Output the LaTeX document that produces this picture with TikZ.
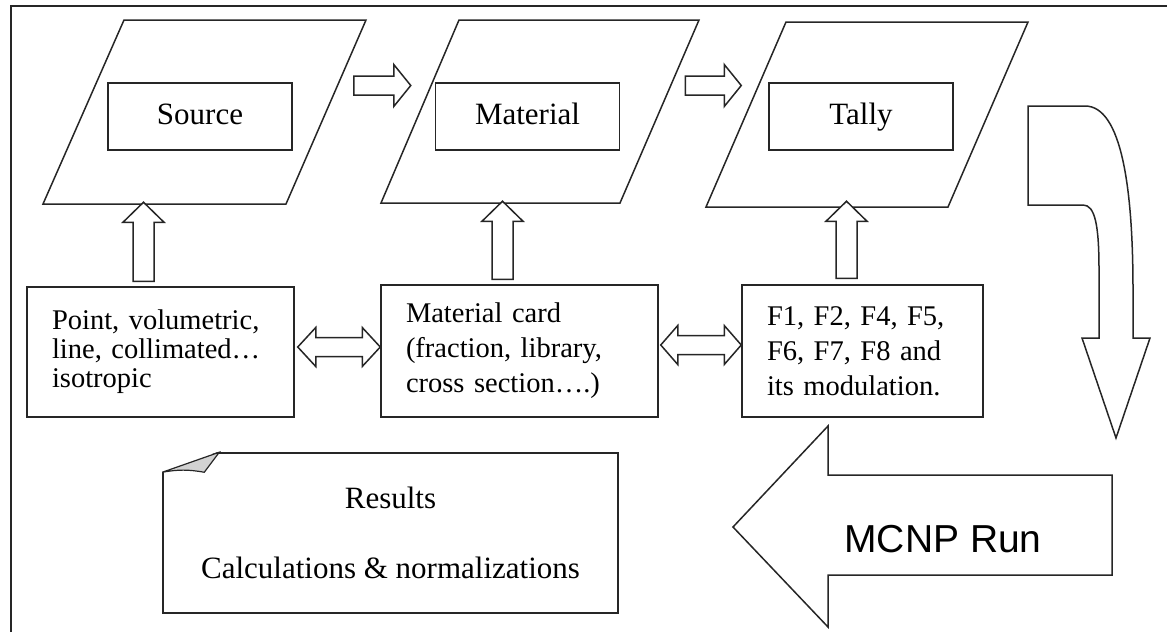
\documentclass[tikz,border=0pt]{standalone}
\usepackage{fontspec}
\setmainfont{Liberation Serif}
\newfontfamily\arialfont{Liberation Sans}
\usetikzlibrary{calc,positioning}

% block arrow: start, tip, shaft half width, head half width, head length
\newcommand\blockarrow[5]{%
\draw[blk] let \p1=(#1), \p2=(#2), \n1={atan2(\y2-\y1,\x2-\x1)}, \n2={veclen(\x2-\x1,\y2-\y1)} in
 [shift={(\p1)}, rotate=\n1] (0pt,-#3pt) -- (\n2-#5pt,-#3pt) -- (\n2-#5pt,-#4pt) -- (\n2,0pt)
 -- (\n2-#5pt,#4pt) -- (\n2-#5pt,#3pt) -- (0pt,#3pt) -- cycle;}
% double block arrow: one end, other end, shaft half width, head half width, head length
\newcommand\dblarrow[5]{%
\draw[blk] let \p1=(#1), \p2=(#2), \n1={atan2(\y2-\y1,\x2-\x1)}, \n2={veclen(\x2-\x1,\y2-\y1)} in
 [shift={(\p1)}, rotate=\n1] (0pt,0pt) -- (#5pt,-#4pt) -- (#5pt,-#3pt) -- (\n2-#5pt,-#3pt) -- (\n2-#5pt,-#4pt)
 -- (\n2,0pt) -- (\n2-#5pt,#4pt) -- (\n2-#5pt,#3pt) -- (#5pt,#3pt) -- (#5pt,#4pt) -- cycle;}

\begin{document}
\begin{tikzpicture}[x=1pt,y=-1pt,line width=1.5pt,draw=black!85,every node/.style={align=center},
heading/.style={draw,minimum width=184pt,minimum height=67pt,text height=21pt,text depth=6pt,font=\fontsize{31}{36}\selectfont},
card/.style={draw,align=left,inner xsep=25pt,minimum height=132pt,font=\fontsize{28.5}{35}\selectfont},
blk/.style={draw=black!85,fill=white,line join=miter}
]
\useasboundingbox (0,0) rectangle (1167,632);
\draw (11,632) -- (11,6) -- (1167,6); % <- end frame

% the three slanted input blocks
\draw[line join=miter] (43,204) -- (124,20) -- (366,20) -- (286,204) -- cycle;
\draw[line join=miter] (381,203) -- (459,20) -- (699,20) -- (620,203) -- cycle;
\draw[line join=miter] (706,207) -- (786,22) -- (1028,22) -- (948,207) -- cycle;
\node[heading] (srcname) at (200,116.5) {Source};
\node[heading] (matname) at (527.5,116.5) {Material};
\node[heading] (tallyname) at (861,116.5) {Tally}; % <- end top row

\node[card,text width=217pt,minimum height=130pt,font=\fontsize{28.5}{29}\selectfont] (pointcard) at (160.5,352) {Point, volumetric,\\ line, collimated\dots\\ isotropic};
\node[card,text width=227pt] (matcard) at (519.5,351) {Material card\\ (fraction, library,\\ cross section\dots.)};
\node[card,text width=191pt] (tallycard) at (862.5,351) {F1, F2, F4, F5,\\ F6, F7, F8 and\\ its modulation.}; % <- end cards

\blockarrow{$(srcname.east)+(61,-31)$}{$(matname.west)+(-24,-31)$}{9.5}{21}{17}
\blockarrow{$(matname.east)+(65,-31)$}{$(tallyname.west)+(-27,-31)$}{9.5}{21}{17}
\blockarrow{$(pointcard.north)+(-17,-5)$}{$(pointcard.north)+(-17,-84)$}{10.5}{20.5}{20}
\blockarrow{$(matcard.north)+(-17,-5)$}{$(matcard.north)+(-17,-83)$}{10.5}{20.5}{20}
\blockarrow{$(tallycard.north)+(-16,-6)$}{$(tallycard.north)+(-16,-83)$}{10.5}{20.5}{20}
\dblarrow{$(pointcard.east)+(3,-5)$}{$(matcard.west)+(0,-4)$}{9.5}{19.5}{18}
\dblarrow{$(matcard.east)+(2,-6)$}{$(tallycard.west)+(0,-6)$}{9.5}{19.5}{17} % <- end arrows

% curved arrow down the right side
\draw[blk] (1028,106) -- (1085,106) .. controls (1122,106) and (1133,190) .. (1133,290) -- (1133,338)
 -- (1150,338) -- (1116,438) -- (1082,338) -- (1099,338) -- (1099,270)
 .. controls (1099,225) and (1095,205) .. (1083,205) -- (1028,205) -- cycle;

\draw[blk] (733,527) -- (828,426) -- (828,475) -- (1112,475) -- (1112,575) -- (828,575) -- (828,627) -- cycle;
\node[font=\arialfont\fontsize{39}{44}\selectfont,anchor=base] (mcnp) at (943,552) {MCNP Run};

\node[draw,minimum width=455pt,minimum height=160pt,font=\fontsize{31}{36}\selectfont] (results) at (390.5,533) {Results\\[34pt]Calculations \& normalizations};
\coordinate (fa) at ($(results.north west)+(0,20)$);
\coordinate (fb) at ($(results.north west)+(57,0)$);
\coordinate (fc) at ($(results.north west)+(42,20)$);
\fill[white] ($(results.north west)+(-1,-1)$) -- ($(fb)+(0,-1)$) -- ($(fa)+(-1,0)$) -- cycle;
\filldraw[fill=gray!35,line width=1.2pt] (fa) -- (fb) -- (fc) to[bend right=10] (fa); % <- end results
\end{tikzpicture}
\end{document}
